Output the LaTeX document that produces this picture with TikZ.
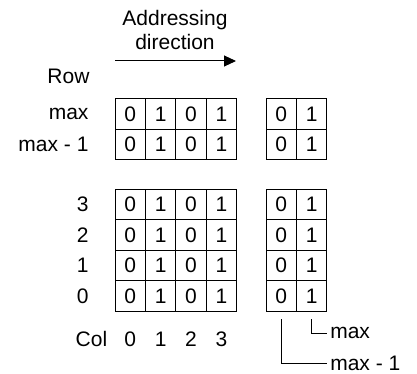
\documentclass[tikz,border=0pt]{standalone}
\usepackage{fontspec}
\setmainfont{Liberation Sans}
\usetikzlibrary{arrows.meta}

\begin{document}
\begin{tikzpicture}[
    x=1pt, y=-1pt, line width=1pt,
    font=\fontsize{21}{24}\selectfont, >={Triangle[length=12pt, width=11pt]},
    bitcell/.style={draw, minimum width=30.4pt, minimum height=30.4pt, inner sep=0pt, outer sep=0pt},
    rowlbl/.style={anchor=east, inner sep=0pt},
    sidelbl/.style={anchor=west, inner sep=3pt, outer sep=0pt}
  ]
    \useasboundingbox (0,0) rectangle (417,374);

    % --- DIRECCION DE DIRECCIONAMIENTO ---
    \coordinate (dirstart) at (115,61);
    \coordinate (dirend) at (236,61);
    \draw[->] (dirstart) -- (dirend);
    \node[align=center] (dirlbl) at (175,30) {Addressing\\direction};

    % --- CELDAS (bloque izquierdo y derecho) ---
    \foreach \r/\y in {max/113.9, maxm/144.3, 3/204.7, 2/235.1, 1/265.5, 0/295.9} {
        \foreach \c/\x/\b in {0/130.2/0, 1/160.6/1, 2/191/0, 3/221.4/1} {
            \node[bitcell] (L-\r-\c) at (\x,\y) {\b};
        }
        \foreach \c/\x/\b in {a/281.2/0, b/311.6/1} {
            \node[bitcell] (R-\r-\c) at (\x,\y) {\b};
        }
    }

    % --- ETIQUETAS DE FILA ---
    \node[rowlbl] (rowhead) at (90,76.7) {Row};
    \foreach \r/\t in {max/max, maxm/max - 1, 3/3, 2/2, 1/1, 0/0} {
        \node[rowlbl] (lbl-\r) at ([xshift=-26pt]L-\r-0.west) {\t};
    }

    % --- ETIQUETAS DE COLUMNA ---
    \node (colhead) at (91.5,339) {Col};
    \foreach \c in {0,...,3} {
        \node (col-\c) at (L-0-\c |- colhead) {\c};
    }

    % --- COLUMNAS max y max - 1 ---
    \node[sidelbl] (maxlbl) at (327.3,333.3) {max};
    \node[sidelbl] (maxmlbl) at (327.3,363.3) {max - 1};
    \draw ([yshift=-8pt]R-0-b.south) |- (maxlbl.west);
    \draw ([yshift=-8pt]R-0-a.south) |- (maxmlbl.west);

\end{tikzpicture}
\end{document}
